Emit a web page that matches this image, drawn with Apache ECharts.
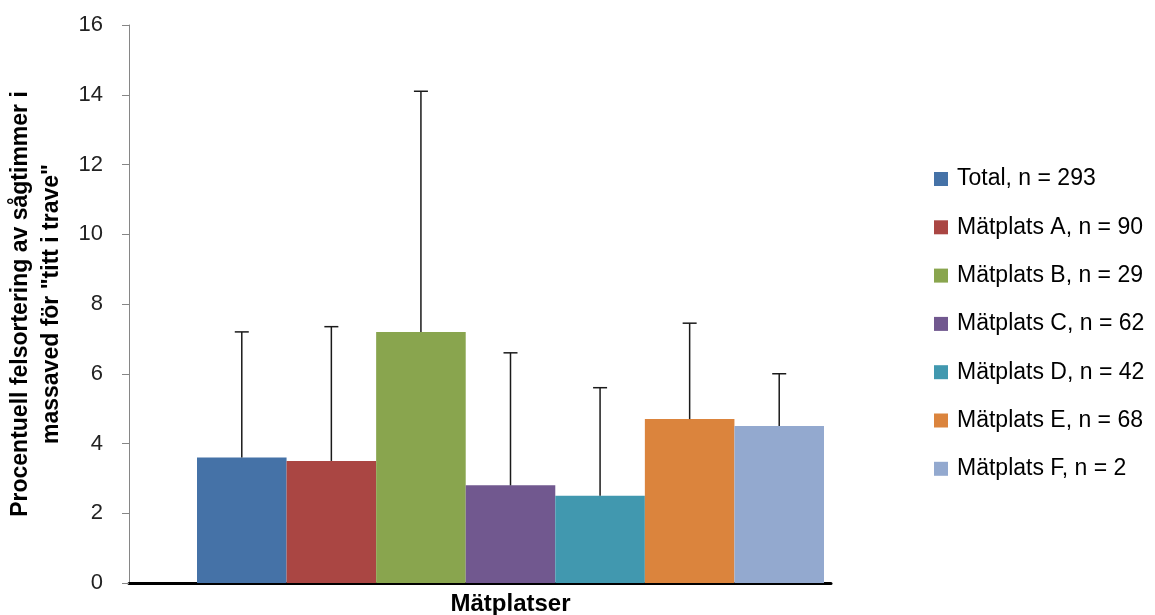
<!DOCTYPE html>
<html>
<head>
<meta charset="utf-8">
<script src="https://cdn.jsdelivr.net/npm/echarts@6/dist/echarts.min.js"></script>
<style>
html,body{margin:0;padding:0;background:#fff;}
#chart{width:1155px;height:615px;}
</style>
</head>
<body>
<div id="chart"></div>
<script>
const categories = ['Mätplatser'];
const seriesNames = ['Total, n = 293','Mätplats A, n = 90','Mätplats B, n = 29','Mätplats C, n = 62','Mätplats D, n = 42','Mätplats E, n = 68','Mätplats F, n = 2'];
const means = [3.6, 3.5, 7.2, 2.8, 2.5, 4.7, 4.5];
const errorsUp = [3.6, 3.85, 6.9, 3.8, 3.1, 2.75, 1.5];
const yTicks = [0, 2, 4, 6, 8, 10, 12, 14, 16];
const colors = ['#4572A7','#AA4643','#89A54E','#71588F','#4198AF','#DB843D','#93A9CF'];

const FONT = '"Liberation Sans", Arial, sans-serif';
const chart = echarts.init(document.getElementById('chart'), null, {renderer:'canvas'});

const barSeries = seriesNames.map((name, i) => ({
  name: name,
  type: 'bar',
  xAxisIndex: 1,
  yAxisIndex: 1,
  barGap: '0%',
  barCategoryGap: '0%',
  itemStyle: {color: colors[i]},
  data: [means[i]],
  z: 2
}));

const errData = means.map((m, i) => [0, m, m + errorsUp[i], i]);

const errSeries = {
  type: 'custom',
  xAxisIndex: 1,
  yAxisIndex: 1,
  z: 5,
  silent: true,
  data: errData,
  renderItem: function (params, api) {
    const n = means.length;
    const base = api.coord([api.value(0), api.value(1)]);
    const top = api.coord([api.value(0), api.value(2)]);
    const catW = api.size([1, 0])[0];
    const idx = api.value(3);
    const x = base[0] - catW / 2 + (idx + 0.5) * catW / n;
    const half = 7;
    const style = {stroke: '#1a1a1a', lineWidth: 1.5, fill: null};
    return {
      type: 'group',
      children: [
        {type: 'line', shape: {x1: x, y1: base[1], x2: x, y2: top[1]}, style: style},
        {type: 'line', shape: {x1: x - half, y1: top[1], x2: x + half, y2: top[1]}, style: style}
      ]
    };
  }
};

const option = {
  animation: false,
  backgroundColor: '#fff',
  textStyle: {fontFamily: FONT},
  grid: [
    {left: 129, right: 324, top: 25, bottom: 32, outerBoundsMode: 'none', containLabel: false},
    {left: 197, right: 331, top: 25, bottom: 32, outerBoundsMode: 'none', containLabel: false}
  ],
  legend: {
    orient: 'vertical',
    left: 934,
    top: 167,
    padding: 0,
    itemWidth: 14,
    itemHeight: 14,
    itemGap: 24.3,
    icon: 'rect',
    data: seriesNames,
    textStyle: {fontFamily: FONT, fontSize: 23, color: '#000', lineHeight: 24, padding: [0, 0, 0, 4]}
  },
  xAxis: [
    {
      type: 'category',
      gridIndex: 0,
      data: [''],
      axisLine: {show: true, lineStyle: {color: '#000', width: 3}},
      axisTick: {show: false},
      axisLabel: {show: false},
      splitLine: {show: false}
    },
    {
      type: 'category',
      gridIndex: 1,
      data: categories,
      name: categories[0],
      nameLocation: 'middle',
      nameGap: 9,
      nameTextStyle: {fontFamily: FONT, fontSize: 24, fontWeight: 'bold', color: '#000'},
      axisLine: {show: false},
      axisTick: {show: false},
      axisLabel: {show: false},
      splitLine: {show: false}
    }
  ],
  yAxis: [
    {
      type: 'value',
      gridIndex: 0,
      min: yTicks[0],
      max: yTicks[yTicks.length - 1],
      interval: yTicks[1] - yTicks[0],
      name: 'Procentuell felsortering av sågtimmer i\nmassaved för "titt i trave"',
      nameLocation: 'middle',
      nameRotate: 90,
      nameGap: 59,
      nameTextStyle: {fontFamily: FONT, fontSize: 23, fontWeight: 'bold', color: '#000', lineHeight: 31, align: 'center'},
      axisLine: {show: true, lineStyle: {color: '#868686', width: 1}},
      axisTick: {show: true, inside: false, length: 7, lineStyle: {color: '#868686'}},
      axisLabel: {show: true, margin: 26, fontFamily: FONT, fontSize: 22, color: '#222'},
      splitLine: {show: false}
    },
    {
      type: 'value',
      gridIndex: 1,
      min: yTicks[0],
      max: yTicks[yTicks.length - 1],
      interval: yTicks[1] - yTicks[0],
      show: false,
      splitLine: {show: false}
    }
  ],
  series: barSeries.concat([errSeries])
};
chart.setOption(option);
</script>
</body>
</html>
